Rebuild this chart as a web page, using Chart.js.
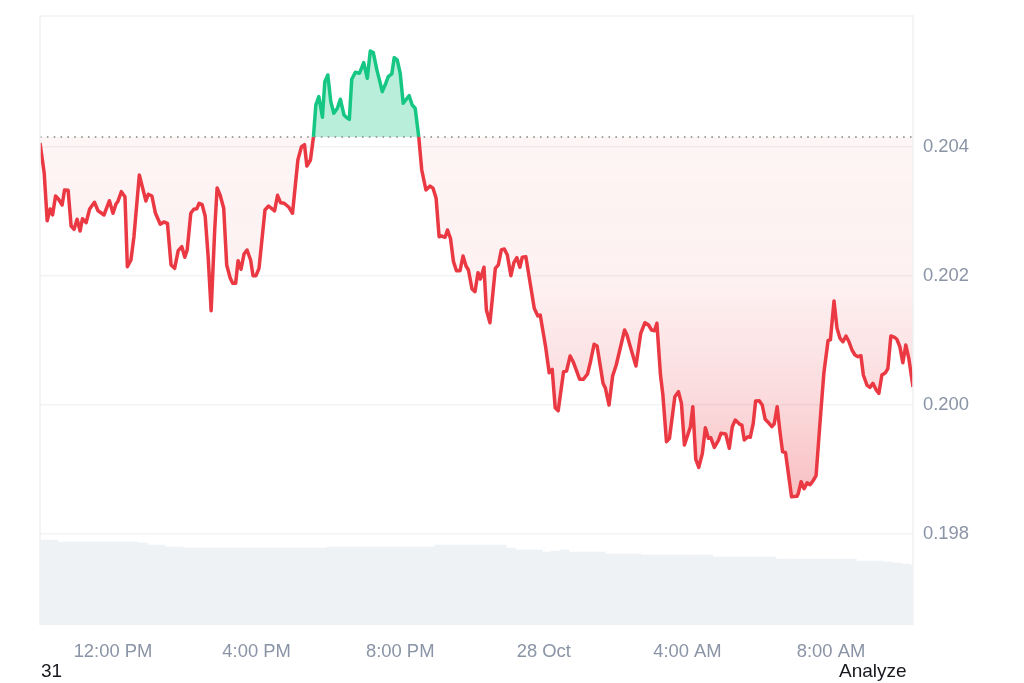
<!DOCTYPE html>
<html lang="en">
<head>
    <meta charset="UTF-8">
    <title>Price chart</title>
    <script src="https://cdn.jsdelivr.net/npm/chart.js"></script>
    <style>
        body { margin: 0; background: #fff; font-family: "Liberation Sans", Arial, sans-serif; }
        #wrap { position: relative; width: 1024px; height: 683px; overflow: hidden; }
        canvas { display: block; }
        .note { position: absolute; top: 660px; font-size: 19px; line-height: 22px; color: #16181d; }
    </style>
</head>
<body>
    <div id="wrap">
        <canvas id="priceChart" width="1024" height="683"></canvas>
        <span class="note" style="left:41px">31</span>
        <span class="note" style="left:839px">Analyze</span>
    </div>

    <script>
        // minutes since 00:00 on 27 Oct
        const times = [
            598, 605, 610, 615, 619, 624, 629, 635, 639, 645, 650, 655, 660, 665, 669, 675, 681, 689, 695, 705,
            714, 720, 725, 728, 734, 740, 744, 750, 755, 764, 775, 779, 785, 791, 799, 805, 811, 817, 823, 829,
            835, 840, 844, 850, 855, 860, 864, 869, 874, 879, 884, 890, 894, 899, 905, 910, 916, 920, 925, 929,
            934, 939, 944, 950, 954, 959, 964, 974, 980, 990, 995, 1000, 1006, 1014, 1020, 1029, 1035, 1040, 1044, 1050,
            1055, 1059, 1064, 1070, 1074, 1079, 1084, 1089, 1095, 1100, 1106, 1110, 1115, 1119, 1125, 1132, 1139, 1145, 1150, 1155,
            1161, 1166, 1170, 1176, 1180, 1186, 1190, 1195, 1200, 1205, 1215, 1220, 1225, 1231, 1236, 1243, 1250, 1255, 1260, 1265,
            1269, 1275, 1279, 1284, 1289, 1294, 1300, 1305, 1310, 1314, 1320, 1325, 1330, 1334, 1340, 1344, 1350, 1359, 1364, 1369,
            1374, 1379, 1385, 1390, 1395, 1400, 1404, 1410, 1424, 1430, 1434, 1443, 1449, 1454, 1459, 1464, 1473, 1478, 1484, 1489,
            1500, 1506, 1513, 1518, 1524, 1529, 1539, 1543, 1549, 1555, 1561, 1567, 1575, 1579, 1587, 1594, 1602, 1609, 1615, 1620,
            1625, 1629, 1635, 1639, 1645, 1650, 1659, 1665, 1670, 1675, 1685, 1689, 1694, 1699, 1705, 1710, 1715, 1719, 1725, 1732,
            1736, 1744, 1750, 1755, 1760, 1767, 1771, 1775, 1781, 1785, 1790, 1794, 1800, 1805, 1810, 1814, 1821, 1825, 1830, 1835,
            1839, 1844, 1854, 1863, 1865, 1870, 1875, 1880, 1885, 1890, 1895, 1899, 1903, 1908, 1915, 1919, 1925, 1930, 1935, 1940,
            1945, 1950, 1955, 1960, 1965, 1970, 1974, 1980, 1985, 1990, 1995, 2000, 2005, 2011, 2015, 2020, 2027, 2030, 2035, 2040,
            2045, 2050, 2057
        ];
        const prices = [
            0.204062, 0.203597, 0.202857, 0.203039, 0.202946, 0.203240, 0.203189, 0.203101, 0.203333, 0.203329,
            0.202775, 0.202724, 0.202879, 0.202698, 0.202888, 0.202826, 0.203039, 0.203143, 0.203012, 0.202946,
            0.203167, 0.202972, 0.203116, 0.203152, 0.203307, 0.203229, 0.202144, 0.202248, 0.202609, 0.203566,
            0.203163, 0.203267, 0.203240, 0.202972, 0.202802, 0.202837, 0.202817, 0.202171, 0.202119, 0.202392,
            0.202454, 0.202290, 0.202403, 0.202972, 0.203034, 0.203043, 0.203127, 0.203105, 0.202930, 0.202299,
            0.201462, 0.202713, 0.203364, 0.203256, 0.203050, 0.202171, 0.201964, 0.201887, 0.201887, 0.202237,
            0.202104, 0.202341, 0.202403, 0.202248, 0.202005, 0.202005, 0.202119, 0.203023, 0.203085, 0.203008,
            0.203251, 0.203136, 0.203127, 0.203065, 0.202972, 0.203798, 0.204005, 0.204036, 0.203705, 0.203798,
            0.204155, 0.204651, 0.204780, 0.204460, 0.205012, 0.205116, 0.204702, 0.204522, 0.204600, 0.204740,
            0.204496, 0.204460, 0.204429, 0.205050, 0.205158, 0.205143, 0.205307, 0.205065, 0.205488, 0.205462,
            0.205194, 0.205012, 0.204857, 0.204988, 0.205090, 0.205132, 0.205385, 0.205349, 0.205143, 0.204678,
            0.204795, 0.204651, 0.204600, 0.204155, 0.203643, 0.203333, 0.203395, 0.203357, 0.203205, 0.202609,
            0.202620, 0.202600, 0.202713, 0.202584, 0.202222, 0.202082, 0.202082, 0.202310, 0.202155, 0.202093,
            0.201798, 0.201757, 0.202051, 0.201953, 0.202135, 0.201473, 0.201276, 0.202119, 0.202171, 0.202403,
            0.202419, 0.202326, 0.202005, 0.202206, 0.202284, 0.202135, 0.202290, 0.202299, 0.201499, 0.201380,
            0.201395, 0.200904, 0.200501, 0.200553, 0.199958, 0.199912, 0.200516, 0.200527, 0.200760, 0.200671,
            0.200398, 0.200398, 0.200481, 0.200671, 0.200941, 0.200915, 0.200336, 0.200259, 0.200000, 0.200450,
            0.200620, 0.200853, 0.201163, 0.201085, 0.200826, 0.200605, 0.201112, 0.201276, 0.201240, 0.201163,
            0.201152, 0.201267, 0.200465, 0.200155, 0.199431, 0.199484, 0.200129, 0.200206, 0.200026, 0.199380,
            0.199664, 0.199974, 0.199158, 0.199034, 0.199251, 0.199648, 0.199484, 0.199493, 0.199344, 0.199457,
            0.199561, 0.199550, 0.199329, 0.199664, 0.199767, 0.199705, 0.199690, 0.199457, 0.199508, 0.199499,
            0.199716, 0.200062, 0.200067, 0.200000, 0.199778, 0.199741, 0.199664, 0.199705, 0.199974, 0.199561,
            0.199276, 0.199260, 0.198578, 0.198584, 0.198620, 0.198811, 0.198702, 0.198795, 0.198764, 0.198826,
            0.198904, 0.199406, 0.199896, 0.200491, 0.200997, 0.201012, 0.201612, 0.201189, 0.201034, 0.200981,
            0.201070, 0.200981, 0.200853, 0.200775, 0.200749, 0.200764, 0.200465, 0.200310, 0.200274, 0.200336,
            0.200243, 0.200181, 0.200465, 0.200501, 0.200563, 0.201070, 0.201043, 0.201019, 0.200904, 0.200656,
            0.200930, 0.200724, 0.200279
        ];
        const volumeTimes = [
            605, 620, 635, 650, 665, 680, 695, 710, 725, 740, 755, 770, 785, 800, 815, 830, 845, 860, 875, 890,
            905, 920, 935, 950, 965, 980, 995, 1010, 1025, 1040, 1055, 1070, 1085, 1100, 1115, 1130, 1145, 1160, 1175, 1190,
            1205, 1220, 1235, 1250, 1265, 1280, 1295, 1310, 1325, 1340, 1355, 1370, 1385, 1400, 1415, 1430, 1445, 1460, 1475, 1490,
            1505, 1520, 1535, 1550, 1565, 1580, 1595, 1610, 1625, 1640, 1655, 1670, 1685, 1700, 1715, 1730, 1745, 1760, 1775, 1790,
            1805, 1820, 1835, 1850, 1865, 1880, 1895, 1910, 1925, 1940, 1955, 1970, 1985, 2000, 2015, 2030, 2045, 2060
        ];
        const volumes = [
            85, 85, 83, 83, 83, 83, 83, 83, 83, 83, 83, 82, 80, 80, 78, 78, 77, 77, 77, 77,
            77, 77, 77, 77, 77, 77, 77, 77, 77, 77, 77, 77, 78, 78, 78, 78, 78, 78, 78, 78,
            78, 78, 78, 78, 80, 80, 80, 80, 80, 80, 80, 80, 77, 75, 75, 75, 73, 74, 75, 73,
            73, 73, 73, 71, 71, 71, 71, 70, 70, 70, 70, 70, 70, 70, 70, 68, 68, 68, 68, 68,
            68, 68, 66, 66, 66, 66, 66, 66, 66, 66, 66, 64, 64, 64, 63, 62, 61, 60
        ];
        const baseline = 0.204155;
        const priceTicks = [0.198, 0.2, 0.202, 0.204];
        const timeTicks = [720, 960, 1200, 1440, 1680, 1920];
        const timeLabels = ['12:00 PM', '4:00 PM', '8:00 PM', '28 Oct', '4:00 AM', '8:00 AM'];

        const RED = '#ea3943';
        const GREEN = '#16c784';
        const TICK_COLOR = '#8a94a6';
        const GRID_COLOR = '#f1f3f5';

        const toXY = (xs, ys) => xs.map((x, i) => ({ x: x, y: ys[i] }));

        const plotFrame = {
            id: 'plotFrame',
            afterDraw(chart) {
                const { ctx, chartArea: a } = chart;
                ctx.save();
                ctx.strokeStyle = '#eff1f4';
                ctx.lineWidth = 1.5;
                ctx.beginPath();
                ctx.moveTo(a.left, a.bottom);
                ctx.lineTo(a.left, a.top);
                ctx.lineTo(a.right, a.top);
                ctx.lineTo(a.right, a.bottom);
                ctx.stroke();
                ctx.restore();
            }
        };

        const canvas = document.getElementById('priceChart');
        const ctx = canvas.getContext('2d');

        const chart = new Chart(ctx, {
            data: {
                datasets: [
                    {
                        type: 'line',
                        data: toXY(times, prices),
                        yAxisID: 'y',
                        order: 1,
                        borderWidth: 3.5,
                        borderColor: RED,
                        borderJoinStyle: 'round',
                        pointRadius: 0,
                        tension: 0,
                        fill: { target: { value: baseline }, above: 'rgba(22,199,132,0.3)', below: 'rgba(234,57,67,0.1)' },
                        segment: {
                            borderColor: c => (c.p0.parsed.y >= baseline && c.p1.parsed.y >= baseline) ? GREEN : RED
                        }
                    },
                    {
                        type: 'line',
                        data: toXY([598, 2057], [baseline, baseline]),
                        yAxisID: 'y',
                        order: 0,
                        borderWidth: 1.6,
                        borderColor: '#858585',
                        borderDash: [1.6, 5.25],
                        pointRadius: 0,
                        fill: false
                    },
                    {
                        type: 'bar',
                        data: toXY(volumeTimes, volumes),
                        yAxisID: 'vol',
                        order: 3,
                        backgroundColor: '#eff2f5',
                        barPercentage: 1,
                        categoryPercentage: 1
                    }
                ]
            },
            options: {
                responsive: false,
                animation: false,
                layout: { padding: { left: 40, top: 16 } },
                plugins: { legend: { display: false }, tooltip: { enabled: false } },
                scales: {
                    x: {
                        type: 'linear',
                        offset: false,
                        min: 598,
                        max: 2057,
                        grid: { display: false },
                        border: { display: false },
                        afterFit(s) { s.height = 58; s.paddingLeft = 0; s.paddingRight = 0; },
                        afterBuildTicks(s) { s.ticks = timeTicks.map(v => ({ value: v })); },
                        ticks: {
                            autoSkip: false,
                            maxRotation: 0,
                            padding: 8,
                            color: TICK_COLOR,
                            font: { family: '"Liberation Sans", Arial, sans-serif', size: 18.4 },
                            callback: v => timeLabels[timeTicks.indexOf(v)]
                        }
                    },
                    y: {
                        type: 'linear',
                        position: 'right',
                        min: 0.19659,
                        max: 0.20603,
                        grid: { color: GRID_COLOR, lineWidth: 1.5, drawTicks: false },
                        border: { display: false },
                        afterFit(s) { s.width = 111; s.paddingTop = 0; s.paddingBottom = 0; },
                        afterBuildTicks(s) { s.ticks = priceTicks.map(v => ({ value: v })); },
                        ticks: {
                            padding: 10,
                            color: TICK_COLOR,
                            font: { family: '"Liberation Sans", Arial, sans-serif', size: 18.4 },
                            callback: v => v.toFixed(3)
                        }
                    },
                    vol: {
                        type: 'linear',
                        display: false,
                        min: 0,
                        max: 609
                    }
                }
            },
            plugins: [plotFrame]
        });

        // red area gets deeper the further the price is below the baseline
        const yScale = chart.scales.y;
        const redFill = ctx.createLinearGradient(0, yScale.getPixelForValue(baseline), 0, yScale.getPixelForValue(Math.min(...prices)));
        redFill.addColorStop(0, 'rgba(234,57,67,0.05)');
        redFill.addColorStop(0.4, 'rgba(234,57,67,0.07)');
        redFill.addColorStop(0.72, 'rgba(234,57,67,0.18)');
        redFill.addColorStop(1, 'rgba(234,57,67,0.32)');
        chart.data.datasets[0].fill.below = redFill;
        chart.update('none');
    </script>
</body>
</html>
